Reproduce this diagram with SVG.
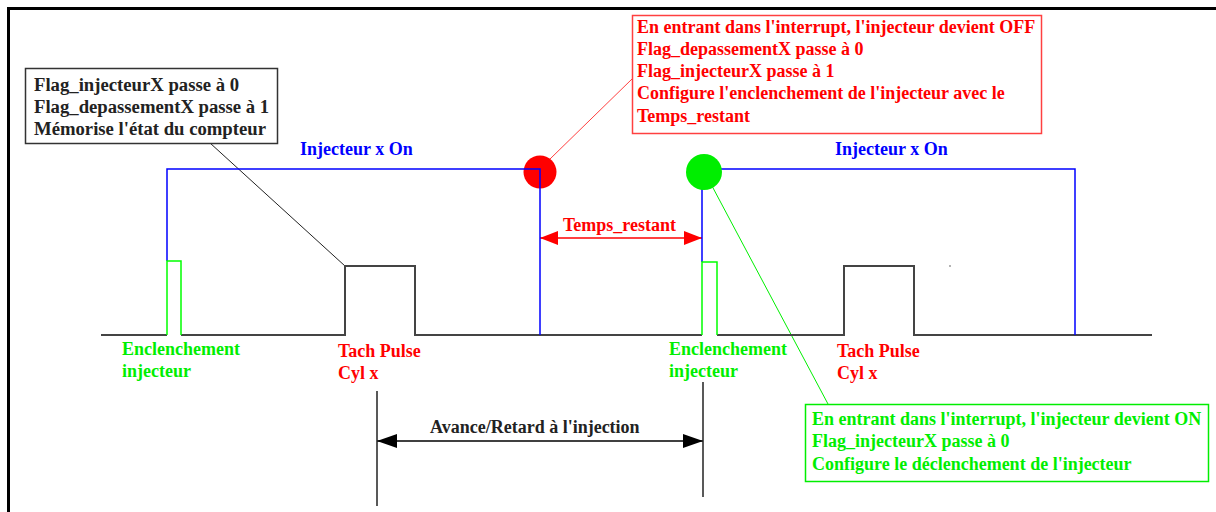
<svg xmlns="http://www.w3.org/2000/svg" width="1216" height="512" viewBox="0 0 1216 512">
<style>
text{font-family:"Liberation Serif","Times New Roman",serif;font-weight:bold;font-size:18px}
.k{fill:#222}.r{fill:#ff0000}.g{fill:#00ee00}.b{fill:#0000ff}
.kb{font-size:18.7px}
.base{stroke:#444;stroke-width:2;fill:none}
.blue{stroke:#0000ff;stroke-width:1.5;fill:none}
.grn{stroke:#00ff00;stroke-width:1.5;fill:none}
</style>
<defs>
<marker id="ak" viewBox="0 0 20 14" refX="20" refY="7" markerWidth="20" markerHeight="14" markerUnits="userSpaceOnUse" orient="auto-start-reverse"><path d="M0,0 L20,7 L0,14 Z" fill="#000"/></marker>
<marker id="ar" viewBox="0 0 18 14" refX="18" refY="7" markerWidth="18" markerHeight="14" markerUnits="userSpaceOnUse" orient="auto-start-reverse"><path d="M0,0 L18,7 L0,14 Z" fill="#ff0000"/></marker>
</defs>
<rect x="0" y="0" width="1216" height="512" fill="#fff"/>
<rect x="8.5" y="8.5" width="1230" height="520" fill="none" stroke="#000" stroke-width="3"/>
<g id="connectors">
<line x1="210" y1="143" x2="345" y2="266" stroke="#222" stroke-width="1"/>
<line x1="632" y1="79" x2="550" y2="159" stroke="#ff4040" stroke-width="1"/>
<line x1="712" y1="186" x2="828" y2="404" stroke="#00ee00" stroke-width="1"/>
<line x1="377" y1="441" x2="703" y2="441" stroke="#000" stroke-width="1.5" marker-start="url(#ak)" marker-end="url(#ak)"/>
<line x1="377" y1="391" x2="377" y2="506" stroke="#222" stroke-width="1.5"/>
<line x1="703" y1="382" x2="703" y2="497" stroke="#222" stroke-width="1.5"/>
<line x1="540" y1="238" x2="702" y2="238" stroke="#ff0000" stroke-width="1.5" marker-start="url(#ar)" marker-end="url(#ar)"/>
</g>
<g id="waveform">
<circle cx="540" cy="172" r="16.5" fill="#ff0000"/>
<path class="base" d="M101,335 H167 M181,335 H345 V266 H415 V335 H702 M717,335 H844 V266 H914 V335 H1152"/>
<path class="blue" d="M167,261 V169 H540 V335"/>
<path class="blue" d="M702,262 V169 H1075 V335"/>
<path class="grn" d="M167,335 V261 H181 V335"/>
<path class="grn" d="M702,335 V262 H717 V335"/>
<circle cx="704" cy="172" r="18" fill="#00ee00"/>
<circle cx="950" cy="266" r="0.8" fill="#555"/>
</g>
<g id="box-black">
<rect x="25.5" y="68.5" width="252" height="75" fill="#fff" stroke="#333" stroke-width="1.5"/>
<text class="k kb" x="34" y="91">Flag_injecteurX passe à 0</text>
<text class="k kb" x="34" y="113">Flag_depassementX passe à 1</text>
<text class="k kb" x="34" y="135">Mémorise l'état du compteur</text>
</g>
<g id="box-red">
<rect x="632.5" y="15.5" width="409" height="118" fill="#fff" stroke="#ff4040" stroke-width="1.5"/>
<text class="r" x="637" y="33">En entrant dans l'interrupt, l'injecteur devient OFF</text>
<text class="r" x="637" y="55">Flag_depassementX passe à 0</text>
<text class="r" x="637" y="77">Flag_injecteurX passe à 1</text>
<text class="r" x="637" y="99">Configure l'enclenchement de l'injecteur avec le</text>
<text class="r" x="637" y="122">Temps_restant</text>
</g>
<g id="box-green">
<rect x="805.5" y="404.5" width="403" height="77" fill="#fff" stroke="#00ee00" stroke-width="1.5"/>
<text class="g" x="812" y="425">En entrant dans l'interrupt, l'injecteur devient ON</text>
<text class="g" x="812" y="447">Flag_injecteurX passe à 0</text>
<text class="g" x="812" y="470">Configure le déclenchement de l'injecteur</text>
</g>
<g id="labels">
<text class="b" x="300" y="155">Injecteur x On</text>
<text class="b" x="835" y="155">Injecteur x On</text>
<text class="g" x="122" y="355">Enclenchement</text>
<text class="g" x="122" y="377">injecteur</text>
<text class="g" x="669" y="355">Enclenchement</text>
<text class="g" x="669" y="377">injecteur</text>
<text class="r" x="338" y="357">Tach Pulse</text>
<text class="r" x="338" y="379">Cyl x</text>
<text class="r" x="837" y="357">Tach Pulse</text>
<text class="r" x="837" y="379">Cyl x</text>
<text class="r" x="563" y="231">Temps_restant</text>
<text class="k" x="430" y="433">Avance/Retard à l'injection</text>
</g>
</svg>
